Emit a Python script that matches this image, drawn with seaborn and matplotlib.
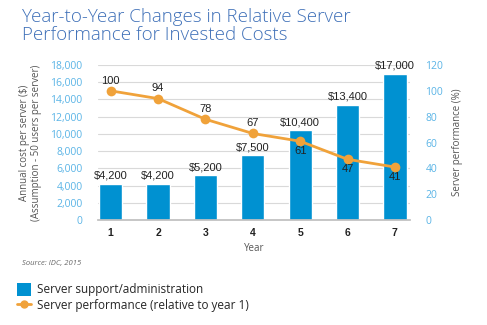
import matplotlib
matplotlib.use("Agg")
import matplotlib.pyplot as plt
import seaborn as sns
import pandas as pd
from matplotlib.patches import Patch
from matplotlib.lines import Line2D

years = ["1", "2", "3", "4", "5", "6", "7"]
cost = [4200, 4200, 5200, 7500, 10400, 13400, 17000]
perf = [100, 94, 78, 67, 61, 47, 41]
cost_labels = ["$4,200", "$4,200", "$5,200", "$7,500", "$10,400", "$13,400", "$17,000"]

sns.set_theme(style="white")
plt.rcParams["font.family"] = ["Open Sans", "DejaVu Sans"]

BAR = "#0091d1"
ORANGE = "#f0a23a"
TICK = "#5ab4e6"
GRID = "#d9d9d9"

df = pd.DataFrame({"year": years, "cost": cost, "perf": perf})

fig = plt.figure(figsize=(4.87, 3.25), dpi=100)
ax = fig.add_axes([0.201, 0.323, 0.641, 0.477])
sns.barplot(data=df, x="year", y="cost", color=BAR, width=0.49, ax=ax, saturation=1)
ax.set_ylim(0, 18000)
ax.set_yticks(range(0, 18001, 2000))
ax.set_yticklabels([f"{v:,}" for v in range(0, 18001, 2000)])
ax.set_xlim(-0.27, 6.32)
ax.yaxis.grid(True, color=GRID, linewidth=0.8)
ax.set_axisbelow(True)
for s in ["top", "right", "left"]:
    ax.spines[s].set_visible(False)
ax.spines["bottom"].set_color("#bfbfbf")
ax.tick_params(axis="y", colors=TICK, labelsize=7.5, length=0, pad=11)
ax.tick_params(axis="x", length=0, pad=6)
for t in ax.get_xticklabels():
    t.set_fontweight("bold")
    t.set_fontsize(7.5)
    t.set_color("#222222")
    t.set_family("Liberation Sans")
ax.set_xlabel("Year", fontsize=7, color="#555555", labelpad=3)
ax.set_ylabel("Annual cost per server ($)\n(Assumption - 50 users per server)",
              fontsize=7, color="#555555", labelpad=6, linespacing=1.1)

for i, (c, lab) in enumerate(zip(cost, cost_labels)):
    ax.text(i, c + 350, lab, ha="center", va="bottom", fontsize=8,
            family="Liberation Sans", color="#222222")

ax2 = ax.twinx()
sns.lineplot(x=list(range(len(years))), y=perf, ax=ax2, color=ORANGE, linewidth=2,
             marker="o", markersize=7, markeredgewidth=0)
ax2.set_ylim(0, 120)
ax2.set_yticks(range(0, 121, 20))
for s in ["top", "right", "left", "bottom"]:
    ax2.spines[s].set_visible(False)
ax2.tick_params(axis="y", colors=TICK, labelsize=7.5, length=0, pad=11)
ax2.set_ylabel("Server performance (%)", fontsize=7, color="#555555", labelpad=6)
for i, p in enumerate(perf):
    if i < 4:
        ax2.text(i, p + 4, str(p), ha="center", va="bottom", fontsize=8,
                 family="Liberation Sans", color="#222222")
    else:
        ax2.text(i, p - 4, str(p), ha="center", va="top", fontsize=8,
                 family="Liberation Sans", color="#222222")

fig.text(0.045, 0.975, "Year-to-Year Changes in Relative Server\nPerformance for Invested Costs",
         fontsize=13.5, color="#3f70b8", ha="left", va="top", fontweight="light",
         linespacing=1.0)
fig.text(0.045, 0.188, "Source: IDC, 2015", fontsize=5.5, style="italic", color="#666666",
         ha="left", va="center")

handles = [Patch(facecolor=BAR, edgecolor="none"),
           Line2D([0], [0], color=ORANGE, linewidth=2, marker="o", markersize=5)]
labels = ["Server support/administration", "Server performance (relative to year 1)"]
fig.legend(handles, labels, loc="upper left", bbox_to_anchor=(0.035, 0.13), frameon=False,
           fontsize=8.5, handlelength=1.2, handleheight=1.3, handletextpad=0.5,
           labelspacing=0.25, borderaxespad=0, borderpad=0)

fig.savefig("out.png", dpi=100)
